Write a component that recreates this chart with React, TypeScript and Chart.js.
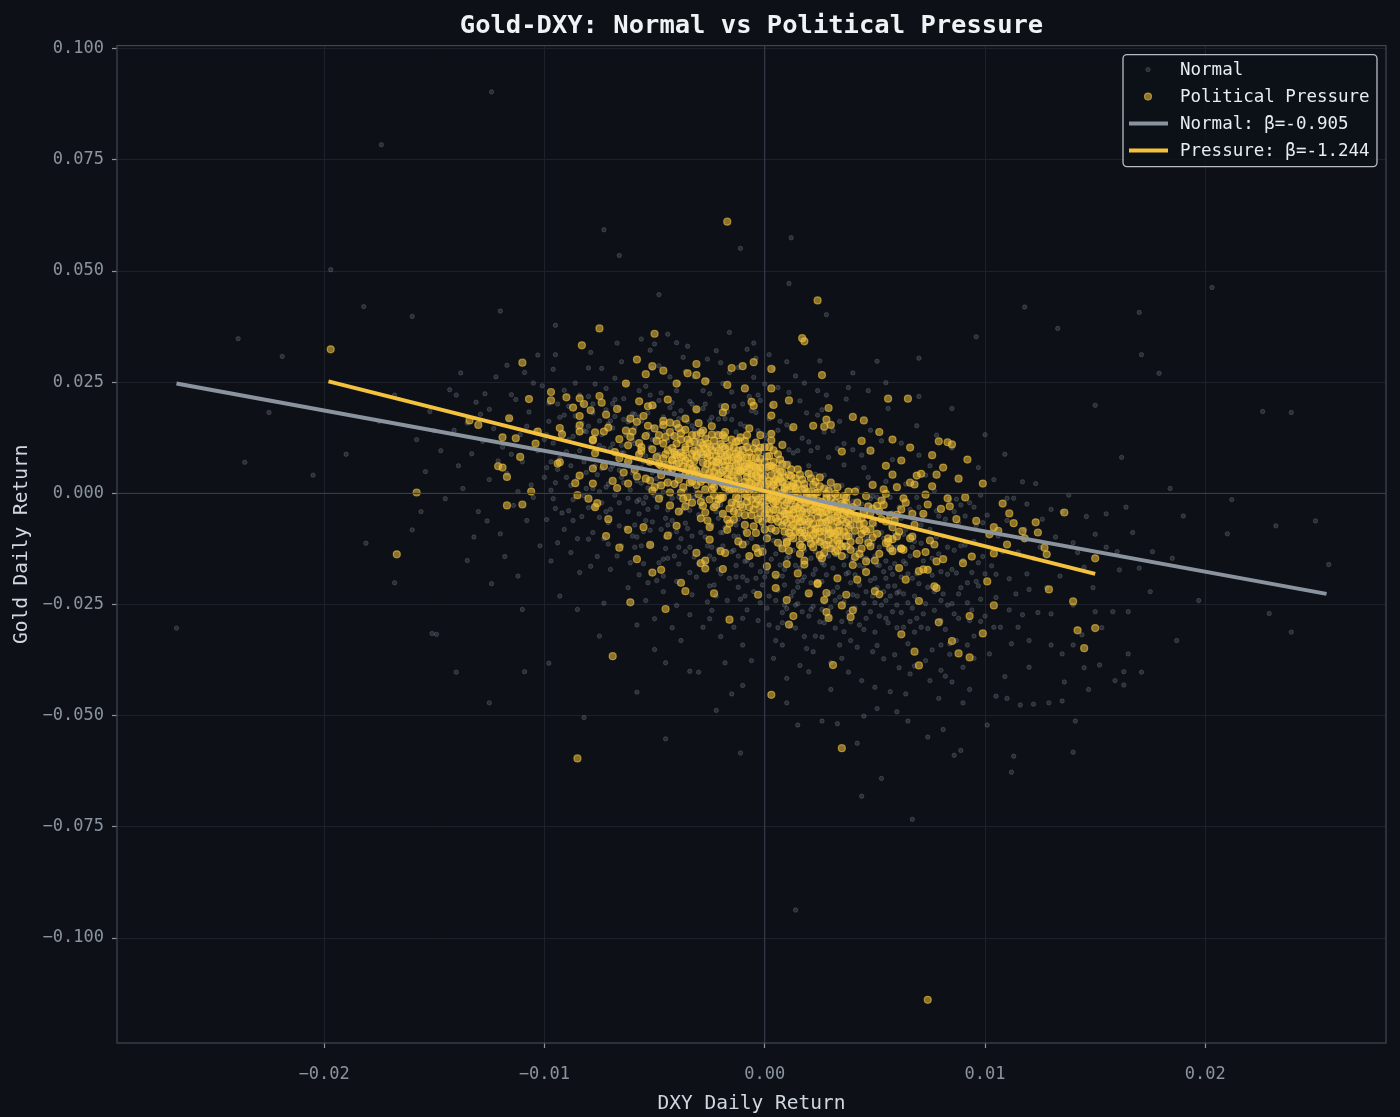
import React, { useEffect, useRef } from 'react';
import { Chart, registerables } from 'chart.js';

Chart.register(...registerables);

// axis ranges and tick labels
const xRange = [-0.0294, 0.0282];
const yRange = [-0.1236, 0.1007];
const xTicks = [-0.02, -0.01, 0, 0.01, 0.02];
const yTicks = [0.1, 0.075, 0.05, 0.025, 0, -0.025, -0.05, -0.075, -0.1];

// fitted lines, end points [DXY, Gold]
const normalFitX = [-0.0267, 0.0255];
const normalFitY = [0.0247, -0.0226];
const pressureFitX = [-0.0198, 0.015];
const pressureFitY = [0.0252, -0.0181];

const labels = ['Normal', 'Political Pressure', 'Normal: β=-0.905', 'Pressure: β=-1.244'];

// daily returns in basis points (1e-4): [DXY, Gold]
const pressurePts: number[][] = [
  [24,434],[-197,324],[-158,2],[-167,-137],[-85,-596],[-69,-366],[3,-453],[35,-573],[74,-1139],[-17,611],
  [17,349],[18,342],[-75,371],[-83,333],[-110,294],[-50,359],[-58,301],[-51,286],[-46,276],[-54,268],
  [-31,291],[-35,270],[-31,266],[-27,252],[-15,282],[-10,286],[-5,295],[3,280],[3,236],[26,266],
  [-17,244],[-9,236],[-40,247],[-63,247],[-107,212],[-97,228],[-97,209],[-90,216],[-84,214],[-82,201],
  [-75,219],[-74,204],[-79,187],[-87,193],[-67,190],[-44,211],[-57,207],[-53,196],[-51,198],[-31,189],
  [-18,194],[-19,182],[-6,206],[-5,197],[3,175],[4,199],[11,209],[29,192],[40,172],[45,164],
  [22,152],[28,166],[27,150],[30,154],[13,149],[3,134],[-116,169],[-130,154],[-134,164],[-119,126],
  [-113,124],[-111,82],[-104,112],[-119,58],[-117,37],[-106,4],[-84,174],[-84,153],[-84,139],[-93,147],
  [-92,133],[-93,70],[-78,121],[-73,139],[-86,23],[-78,22],[-84,40],[-117,-27],[-85,-4],[-76,-22],
  [-78,56],[-77,90],[-78,119],[-77,137],[-103,139],[-94,67],[-121,61],[-110,-25],
  [111,-45],[136,-43],[123,-65],[117,-85],[104,-76],[102,-92],[110,-115],[128,-137],[150,-146],[104,-135],
  [101,-198],[129,-216],[140,-243],[104,-252],[93,-276],[99,-315],[142,-308],[150,-303],[145,-348],[79,-290],
  [85,-332],[88,-360],[93,-369],[68,-356],[70,-387],[62,-317],[70,-242],[91,-9],[83,-11],[84,-29],
  [80,-35],[76,16],[78,42],[69,40],[68,20],[58,42],[94,-142],[90,-157],[81,-148],[78,-153],
  [73,-132],[75,-106],[87,-58],[64,-194],[61,-168],[70,-175],[72,-171],[77,-209],[78,-213],[50,-220],
  [52,-227],[46,-177],[46,-153],[50,-151],[55,-112],[58,-130],[62,-124],[60,-97],
  [-23,-225],[-16,-284],[-3,-228],[5,-213],[10,-240],[13,-276],[11,-295],[31,-386],[28,-267],[29,-280],
  [27,-240],[20,-225],[24,-204],[28,-224],[35,-252],[40,-263],[39,-278],[37,-228],[42,-194],[33,-191],
  [15,-180],[10,-159],[-27,-169],[-27,-151],[-19,-170],[-18,-134],[1,-164],[5,-183],[74,-172],[69,-136],
  [56,-109],[63,-127],[67,-97],[77,-115],[73,-3],[74,-25],[72,-46],[46,-85],[37,-119],[39,-127],
  [24,-202],[18,-151],[18,-160],[10,-112],[-8,-89],[-10,-115],[-25,-76],[-4,-123],[-3,-134],
  [56,213],[65,213],[79,117],[83,115],
  [-36,-220],[-29,-157],[-51,-178],[-58,-148],[-47,-172],[-38,-201],[-52,-116],[-31,-134],[-44,-95],[-62,-82],
  [-66,-122],[-71,-58],[-77,-31],[-80,-12],[-72,-96],[-55,-76],[-40,-73],[-25,-104],[-20,-130],[-12,-108],
  [-7,-141],[-1,-131],[-45,-260],[-61,-245],
  [48,96],[55,62],[62,74],[71,44],[58,121],[66,103],[81,58],[88,33],[92,76],[99,22],
  [44,118],[35,94],[52,138],[76,86],[85,110],
  [96,-62],[106,-84],[113,-67],[118,-101],[124,-88],[127,-122],[108,-23],
  [-71,148],[-68,93],[-73,61],[-66,122],[-69,28],[-72,177],[-63,141],[-66,79],[-62,108],[-64,47],
  [-61,168],[-67,12],[-58,161],[-61,127],[-57,88],[-59,53],[-62,22],[-56,104],[-60,139],[-53,152],
  [-57,113],[-52,71],[-54,33],[-56,96],[-51,6],[-55,174],[-48,131],[-51,99],[-47,62],[-49,82],
  [-52,29],[-46,163],[-50,146],[-48,-12],[-43,138],[-46,112],[-42,74],[-44,51],[-47,18],[-41,93],
  [-45,127],[-43,-27],[-38,121],[-41,88],[-37,61],[-39,31],[-42,76],[-36,104],[-40,156],[-38,2],
  [-39,-41],[-33,131],[-36,98],[-32,72],[-34,44],[-37,14],[-31,86],[-35,58],[-33,-21],[-36,168],
  [-28,108],[-31,81],[-27,53],[-29,26],[-32,96],[-26,66],[-30,-2],[-28,141],[-29,-56],[-23,119],
  [-26,91],[-22,58],[-24,36],[-27,9],[-21,76],[-25,46],[-23,-31],[-24,151],[-18,101],[-21,69],
  [-17,44],[-19,21],[-22,84],[-16,56],[-20,-6],[-18,124],[-19,-46],[-17,-82],[-13,89],[-16,61],
  [-12,34],[-14,11],[-17,74],[-11,49],[-15,-21],[-13,116],[-14,-59],[-8,81],[-11,51],[-7,24],
  [-9,-2],[-12,66],[-6,39],[-10,-31],[-8,104],[-9,-71],[-7,146],[-3,69],[-6,44],[-2,19],
  [-4,-6],[-7,56],[-1,31],[-5,-36],[-3,94],[-4,-89],[-2,131],[2,61],[-1,34],[3,11],
  [1,-16],[-2,46],[4,19],[0,-46],[2,84],[1,-101],[3,119],[-1,-64],[7,49],[4,26],
  [8,1],[6,-24],[3,41],[9,9],[5,-56],[7,76],[6,-111],[8,109],[12,39],[9,14],
  [13,-11],[11,-36],[8,26],[14,-59],[10,64],[12,-96],[11,-129],[17,31],[14,4],[18,-19],
  [16,-46],[13,16],[19,-71],[15,54],[17,-101],[16,-136],[22,19],[19,-6],[23,-31],[21,-56],
  [18,11],[24,-79],[20,44],[22,-121],[27,11],[24,-16],[28,-41],[26,-66],[23,1],[29,-91],
  [25,36],[27,-116],[26,-146],[32,-1],[29,-26],[33,-49],[31,-76],[28,-11],[34,-101],[30,24],
  [32,-131],[37,-9],[34,-36],[38,-61],[36,-86],[33,14],[39,-109],[35,-141],[42,-21],[39,-46],
  [43,-71],[41,4],[38,-96],[44,-124],[40,-161],[47,-29],[44,-56],[48,-81],[46,-6],[43,-106],
  [49,19],[52,-41],[49,-66],[53,-16],[51,-91],[48,-119],[54,9],[57,-49],[54,-26],[58,-76],
  [56,-101],[55,-1],[62,-36],[59,-61],[63,-11],[61,-86],[60,14],[67,-46],[64,-21],[68,-71],
  [66,24],
  [-44,97],[-41,129],[-39,68],[-36,41],[-34,113],[-31,19],[-29,92],[-27,123],[-26,31],[-24,62],
  [-22,104],[-21,-14],[-19,51],[-17,87],[-16,-34],[-14,29],[-12,96],[-11,8],[-9,61],[-8,-19],
  [-6,81],[-5,7],[-3,52],[-2,-27],[0,71],[1,-4],[2,28],[4,-37],[5,56],[6,-8],
  [8,-72],[9,36],[10,-21],[11,-49],[13,22],[14,-86],[15,-33],[16,42],[18,-59],[19,1],
  [21,-39],[22,-94],[24,-24],[25,16],[27,-54],[28,-79],[30,-36],[31,-113],[33,-64],[35,-23],
  [36,-49],[38,-78],[40,-31],[42,-58],[44,-91],
  [-42,54],[-37,84],[-33,27],[-28,69],[-23,-4],[-18,138],[-14,81],[-10,16],[-6,-49],[-2,103],
  [3,-79],[6,88],[10,-109],[13,-3],[17,-84],[20,-16],[23,-104],[26,-31],[30,-89],[33,-128],
  [37,-41],[41,-143],[45,-68],[48,-44],[51,-28],[55,-63],[58,-103],[60,-48],
  [-62,72],[-58,38],[-54,129],[-50,14],[-46,154],[-43,2],[-39,147],[-35,-8],[-31,131],[-27,-43],
  [-24,8],[-20,111],[-16,-68],[-12,-44],[-8,131],[-4,114],[0,-81],[4,97],[8,-124],[12,54],
  [16,-116],[21,34],[25,-139],[29,6],[34,-114],[38,4],[43,-136],[47,-111],[52,-136],[57,-124],
  [62,-124],[66,-101],
  [-49,118],[-47,41],[-45,88],[-43,159],[-41,21],[-40,66],[-38,135],[-37,-12],[-35,79],[-34,24],
  [-32,116],[-31,51],[-30,158],[-29,-19],[-28,88],[-27,33],[-26,-61],[-25,105],[-24,73],[-23,14],
  [-22,-26],[-21,131],[-20,89],[-19,-9],[-18,62],[-17,18],[-16,106],[-15,41],[-14,-41],[-13,64],
  [-12,7],[-11,126],[-10,81],[-9,-49],[-8,37],[-7,92],[-6,-14],[-5,61],[-4,24],[-3,-58],
  [-2,78],[-1,1],[0,39],[1,-36],[2,104],[3,-12],[4,58],[5,-84],[6,24],[7,-51],
  [8,66],[9,-28],[10,6],[11,-89],[12,16],[13,-44],[14,34],[15,-76],[16,-13],[17,-121],
  [18,21],[19,-44],[20,-101],[21,-7],[22,-69],[23,26],[24,-54],[25,-109],[26,-19],[27,-84],
  [28,-1],[29,-61],[30,-124],[31,-31],[32,-91],[33,-6],[34,-71],[35,-119],[36,-26],[37,-96],
  [-48,66],[-44,24],[-40,112],[-36,-29],[-33,89],[-29,114],[-25,-14],[-21,41],[-17,-59],[-13,-8],
  [-9,118],[-5,-74],[-1,-19],[3,62],[7,-6],[11,41],[15,-3],[19,-96],[23,-79],[27,-134],
  [-46,79],[-42,102],[-38,81],[-34,67],[-30,42],[-26,81],[-22,31],[-18,84],[-14,48],[-10,54],
  [-6,22],[-2,58],[2,-9],[6,41],[10,-46],[14,12],[18,-34],[22,-11],[26,-44],[30,-59],
  [-20,26],[-16,8],[-12,79],[-8,12],[-4,41],[0,16],[4,-21],[8,-39],[12,-16],[16,-64],
  [-24,97],[-19,72],[-15,121],[-11,-26],[-7,66],[-3,16],[1,83],[5,31],[9,-61],[13,-71],
  [17,8],[21,-81],[25,-66],[29,-106],[33,-86],[37,-66],[41,-84],[45,-41],[49,-99],[53,-58],
  [-38,92],[-35,121],[-33,54],[-30,101],[-28,32],[-26,112],[-24,21],[-22,71],[-20,-12],[-19,106],
  [-17,32],[-15,74],[-13,-24],[-12,51],[-10,98],[-9,26],[-7,-31],[-6,63],[-4,79],[-3,-14],
  [-1,56],[0,-6],[1,21],[2,-44],[4,71],[5,-18],[6,-64],[7,33],[9,-46],[10,19],
  [11,-14],[12,-58],[14,-29],[15,21],[16,-88],[17,-41],[19,-21],[20,-64],[22,-36],[23,-88],
  [24,2],[26,-99],[27,-26],[29,-44],[30,-11],[31,-96],[33,-41],[34,-84],[36,-6],[38,-44],
  [-36,74],[-32,38],[-29,136],[-25,86],[-21,96],[-18,14],[-14,103],[-11,71],[-8,48],[-5,101],
  [-2,-44],[1,58],[3,-59],[5,6],[8,-14],[10,-66],[13,-36],[15,-56],[18,-89],[21,-24],
  [25,-86],[28,-64],[32,-54],[35,-58],[39,-71],[-16,28],[-12,-12],[-8,66],[-4,-24],[0,104],
  [-27,101],[-23,48],[-19,131],[-15,9],[-11,86],[-7,6],[-3,36],[1,-56],[5,-37],[9,-86],
  [13,-101],[17,-63],[21,-113],[25,-41],[29,-81],[33,-106],[37,-21],[41,-56],[45,-81],[49,-34],
  [-44,64],[-40,86],[-36,143],[-32,56],[-28,-28],[-24,132],[-20,46],[-16,91],[-12,118],[-8,-6],
  [-4,58],[0,-29],[4,-6],[8,48],[12,-76],[16,-26],[20,4],[24,-41],[28,-116],[32,-21],
];

const normalPts: number[][] = [
  [-158,121],[-152,184],[-147,96],[-143,233],[-139,62],[-135,158],[-131,205],[-128,117],[-125,31],[-122,262],
  [-156,-41],[-149,-317],[-141,142],[-137,11],[-133,89],[-129,178],[-126,-62],[-123,146],[-121,73],[-145,-12],
  [-154,49],[-132,-98],[-127,224],[-138,271],[-124,-203],
  [-119,104],[-117,45],[-116,168],[-114,-27],[-113,211],[-111,132],[-110,71],[-108,-61],[-107,183],[-106,19],
  [-104,141],[-103,96],[-102,-118],[-101,242],[-99,58],[-98,162],[-97,7],[-96,113],[-95,-34],[-94,201],
  [-93,79],[-92,138],[-91,-81],[-90,36],[-118,-142],[-115,88],[-112,-186],[-109,272],[-105,-9],[-100,121],
  [-97,-152],[-94,54],[-91,176],[-103,311],[-112,4],[-96,279],[-108,151],[-99,-59],[-93,-231],[-117,288],
  [-89,121],[-88,62],[-87,-14],[-86,174],[-85,33],[-84,96],[-83,-52],[-82,141],[-81,11],[-80,218],
  [-79,77],[-78,-88],[-77,128],[-76,42],[-75,163],[-74,-21],[-73,102],[-72,236],[-71,-66],[-70,54],
  [-69,147],[-68,-4],[-67,89],[-66,192],[-65,-118],[-64,24],[-63,131],[-62,-41],[-61,72],[-60,179],
  [-88,-133],[-86,248],[-84,-178],[-82,71],[-80,-103],[-78,201],[-76,-142],[-74,281],[-72,14],[-70,-171],
  [-68,259],[-66,-73],[-64,213],[-62,-212],[-85,-261],[-79,317],[-73,-247],[-67,338],[-61,-156],[-87,128],
  [-81,47],[-75,4],[-69,111],[-63,68],[-83,201],[-77,-31],[-71,156],[-65,36],[-89,-39],[-60,-96],
  [-59,112],[-58,28],[-57,-46],[-56,163],[-55,71],[-54,-9],[-53,134],[-52,-83],[-51,47],[-50,196],
  [-49,-31],[-48,88],[-47,151],[-46,3],[-45,-124],[-44,119],[-43,57],[-42,-61],[-41,179],[-40,21],
  [-39,94],[-38,-102],[-37,144],[-36,38],[-35,-19],[-34,207],[-33,66],[-32,-143],[-31,117],[-30,-48],
  [-59,-71],[-57,231],[-55,-158],[-53,12],[-51,281],[-49,-196],[-47,-81],[-45,62],[-43,262],[-41,-141],
  [-39,-8],[-37,306],[-35,91],[-33,-228],[-31,188],[-58,59],[-56,-118],[-54,241],[-52,104],[-50,-5],
  [-48,-156],[-46,172],[-44,-37],[-42,128],[-40,-252],[-38,48],[-36,-67],[-34,-178],[-32,142],[-30,79],
  [-59,178],[-57,91],[-55,-22],[-53,-201],[-51,149],[-49,33],[-47,226],[-45,-56],[-43,-91],[-41,84],
  [-39,247],[-37,-34],[-35,161],[-33,-96],[-31,8],[-58,-296],[-54,-241],[-50,-282],[-46,-221],[-42,-302],
  [-38,-331],[-34,-273],[-56,347],[-52,322],[-48,287],[-44,358],[-40,339],[-36,274],[-32,262],[-57,-14],
  [-45,23],[-39,-159],[-33,27],[-53,69],
  [-29,84],[-28,-12],[-27,141],[-26,47],[-25,-76],[-24,108],[-23,19],[-22,-41],[-21,167],[-20,62],
  [-19,-118],[-18,124],[-17,2],[-16,81],[-15,-63],[-14,196],[-13,34],[-12,-97],[-11,102],[-10,-21],
  [-9,151],[-8,56],[-7,-143],[-6,14],[-5,113],[-4,-52],[-3,78],[-2,-176],[-1,39],[0,131],
  [-29,-88],[-27,-158],[-25,224],[-23,-206],[-21,-21],[-19,247],[-17,-241],[-15,166],[-13,-162],[-11,-48],
  [-9,-86],[-7,218],[-5,-221],[-3,-9],[-1,-121],[-28,191],[-26,-244],[-24,-32],[-22,92],[-20,-181],
  [-18,-77],[-16,272],[-14,-128],[-12,21],[-10,201],[-8,-262],[-6,-101],[-4,182],[-2,63],[0,-28],
  [-29,32],[-27,12],[-25,163],[-23,71],[-21,-126],[-19,88],[-17,184],[-15,-22],[-13,138],[-11,-238],
  [-9,42],[-7,-41],[-5,261],[-3,-286],[-1,94],[-28,-301],[-26,302],[-24,-263],[-22,321],[-20,-322],
  [-18,-381],[-16,362],[-14,-301],[-12,283],[-10,-341],[-8,324],[-6,-376],[-4,304],[-2,-246],[0,246],
  [-27,68],[-24,-121],[-21,118],[-18,39],[-15,98],[-12,-58],[-9,-153],[-6,71],[-3,141],[0,-86],
  [-26,254],[-20,197],[-14,59],[-8,-196],[-2,209],[-25,-208],[-19,-46],[-13,-188],[-7,109],[-1,-206],
  [1,47],[2,-61],[3,108],[4,-12],[5,-136],[6,73],[7,-42],[8,21],[9,-101],[10,154],
  [11,-4],[12,-77],[13,91],[14,-162],[15,28],[16,-51],[17,124],[18,-128],[19,-19],[20,62],
  [21,-201],[22,7],[23,-84],[24,103],[25,-33],[26,-156],[27,41],[28,-68],[29,-226],[30,12],
  [1,-176],[3,198],[5,-241],[7,162],[9,-38],[11,227],[13,-221],[15,-108],[17,-266],[19,181],
  [21,-146],[23,43],[25,-289],[27,138],[29,-9],[2,-94],[4,281],[6,-302],[8,-186],[10,-259],
  [12,146],[14,-28],[16,208],[18,-322],[20,-92],[22,-254],[24,-112],[26,188],[28,-183],[30,-121],
  [1,124],[3,-31],[5,18],[7,-118],[9,-206],[11,-142],[13,38],[15,-198],[17,-81],[19,-349],
  [21,96],[23,-171],[25,-58],[27,-242],[29,81],[2,312],[4,-371],[6,238],[8,-341],[10,-416],
  [12,-298],[14,264],[16,-387],[18,248],[20,-276],[22,-356],[24,176],[26,-323],[28,221],[30,-381],
  [2,-231],[5,93],[8,-268],[11,68],[14,-91],[17,-196],[20,-38],[23,-321],[26,-84],[29,-141],
  [3,-148],[9,-4],[15,-248],[21,-61],[27,-18],
  [31,-62],[32,18],[33,-138],[34,-14],[35,-96],[36,64],[37,-181],[38,-39],[39,-121],[40,-228],
  [41,-71],[42,11],[43,-162],[44,-24],[45,-247],[46,-104],[47,36],[48,-196],[49,-58],[50,-141],
  [51,-9],[52,-276],[53,-88],[54,-176],[55,27],[56,-124],[57,-231],[58,-44],[59,-158],[60,-302],
  [31,-221],[33,101],[35,-288],[37,-4],[39,-331],[41,-183],[43,-296],[45,58],[47,-151],[49,-356],
  [51,-212],[53,118],[55,-281],[57,-71],[59,-363],[32,-303],[34,162],[36,-244],[38,-402],[40,98],
  [42,-346],[44,-421],[46,-41],[48,142],[50,-436],[52,-162],[54,-372],[56,-209],[58,76],[60,-121],
  [31,141],[34,-341],[37,212],[40,-18],[43,-46],[46,-281],[49,-112],[52,-38],[55,-191],[58,-266],
  [32,-81],[36,-161],[41,-128],[45,-87],[50,-71],[54,-12],[59,-89],[33,-518],[42,-562],[51,-484],
  [57,-446],[38,238],[47,231],[56,191],
  [61,-31],[62,-188],[63,-92],[64,21],[65,-246],[66,-141],[67,-56],[68,-312],[69,-9],[70,-203],
  [71,-112],[72,-271],[73,41],[74,-168],[75,-81],[76,-352],[77,-221],[78,-39],[79,-136],[80,-286],
  [81,-96],[82,-411],[83,-182],[84,-14],[85,-248],[86,-128],[87,-331],[88,-66],[89,-212],[90,-391],
  [61,-392],[64,-451],[67,-258],[70,86],[73,-376],[76,-146],[79,-461],[82,-58],[85,-424],[88,-281],
  [62,113],[66,-406],[71,-301],[75,62],[80,-176],[84,-338],[89,-26],[63,-153],[68,-108],[72,-48],
  [77,-263],[83,-121],[87,-179],[65,-512],[74,-548],[81,-531],[86,-589],[69,152],[78,131],[85,102],
  [91,-116],[92,-246],[93,-21],[94,-178],[95,-321],[96,-72],[97,-208],[98,-4],[99,-142],[100,-276],
  [101,-49],[102,-361],[103,-163],[104,31],[105,-234],[106,-96],[107,-301],[108,-131],[109,-412],[110,-61],
  [111,-192],[112,-338],[113,-11],[114,-226],[115,-132],[116,-476],[117,-273],[118,-81],[119,-181],[120,-391],
  [93,-441],[97,58],[101,-521],[105,-456],[109,88],[113,-591],[117,26],[95,-31],[103,-86],[111,-262],
  [119,-24],
  [122,-146],[124,-268],[126,-58],[128,-212],[130,-341],[132,-98],[134,-186],[136,-424],[138,-4],[140,-251],
  [142,-133],[144,-318],[146,-52],[149,-212],[152,-386],[155,-121],[158,-266],[161,-172],[164,-31],[167,-88],
  [123,22],[129,-471],[135,-361],[141,-512],[147,-441],[153,-302],[159,-421],[165,-266],[170,-168],[163,-401],
  [184,11],[179,270],[170,407],[203,463],[226,184],[239,182],[256,-160],[239,-312],[229,-270],[171,-402],
  [163,-431],[135,-467],[122,-474],[67,-733],[14,-937],[-11,-584],[-34,-400],[12,575],[-11,551],[-73,593],
  [-66,535],[-48,447],[11,472],[51,297],[-124,903],[-174,784],[-197,503],[-182,420],[-239,348],[-219,308],
  [-225,182],[-236,70],[-267,-303],[-151,-315],[-125,-471],[-109,-401],[-82,-504],[-58,-447],[53,-641],[89,-578],
  [112,-627],[145,-392],[190,-51],[210,-91],[176,-131],[197,-241],[171,312],[133,371],[96,352],[118,419],
  [-190,88],[-175,162],[-168,-201],[-181,-112],[-205,41],[-168,221],[-160,398],[-140,-402],[-98,-382],[26,-512],
  [44,-681],[-22,-488],[-45,-552],[140,-582],[28,402],[70,304],[-95,378],[-120,410],[150,198],[162,81],
  [187,-331],[232,-73],[212,-14],[250,-62],
  [-99,132],[-96,-12],[-93,171],[-90,94],[-87,-61],[-84,221],[-81,139],[-78,11],[-75,-54],[-72,188],
  [-69,62],[-66,-21],[-63,246],[-60,119],[-57,-183],[-54,84],[-51,-64],[-48,209],[-45,141],[-42,-11],
  [-39,168],[-36,-131],[-33,201],[-30,118],[-27,-98],[-24,171],[-21,-56],[-18,-2],[-15,228],[-12,-211],
  [-9,104],[-6,-161],[-3,221],[0,61],[3,-83],[6,142],[9,-251],[12,-29],[15,96],[18,-188],
  [21,-106],[24,231],[27,-291],[30,-52],[33,-211],[36,112],[39,-289],[42,-108],[45,-168],[48,-12],
  [51,-342],[54,-101],[57,-9],[60,-224],[63,-301],[66,-36],[69,-281],[72,-152],[75,-421],[78,-98],
  [81,-226],[84,-362],[87,-13],[90,-151],[93,-286],[96,-198],[99,-66],[-97,71],[-94,-111],[-91,232],
  [-88,18],[-85,148],[-82,-6],[-79,-164],[-76,96],[-73,-102],[-70,163],[-67,-141],[-64,91],[-61,8],
  [-58,-18],[-55,127],[-52,-116],[-49,71],[-46,-148],[-43,193],[-40,-86],[-37,71],[-34,-38],[-31,-188],
  [-28,51],[-25,-141],[-22,136],[-19,-88],[-16,41],[-13,-71],[-10,58],[-7,-13],[-4,101],[-1,-73],
  [2,168],[5,-188],[8,-68],[11,98],[14,-303],[17,-33],[20,116],[23,-131],[26,-198],[29,-278],
  [32,-138],[35,18],[38,-178],[41,-258],[44,86],[47,-96],[50,-191],[53,-251],[56,-58],[59,-208],
  [62,-56],[65,-181],[68,-388],[71,-71],[74,-304],[77,6],[80,-341],[83,-251],[86,-41],[89,-118],
  [92,-341],[95,-108],[98,-238],[-98,203],[-95,24],[-92,-44],[-89,196],[-86,84],[-83,158],[-80,-32],
  [-77,246],[-74,56],[-71,-114],[-68,211],[-65,91],[-62,161],[-59,-121],[-56,23],[-53,181],[-50,121],
  [-47,-8],[-44,-146],[-41,43],[-38,186],[-35,-79],[-32,91],[-29,-31],[-26,126],[-23,-148],[-20,-26],
  [-17,101],[-14,-36],[-11,156],[-8,-111],[-5,21],[-2,-58],[1,-258],[4,44],[7,-161],[10,-81],
  [13,-128],[16,-168],[19,46],[22,-48],[25,-148],[28,-96],[31,-19],[34,-233],[37,-121],[40,-151],
  [43,-79],[46,-221],[49,-6],[52,-92],[55,-152],[58,-182],[61,-128],[64,-81],[67,-191],[70,-31],
  [73,-248],[76,-184],[79,-51],[82,-306],[85,-171],[88,-226],[91,-51],[94,-262],[97,-156],[100,-181],
  [-100,36],[-85,-102],[-70,-36],[-55,-86],[-40,-198],[-25,-282],[-10,-281],[5,-331],[20,-401],[35,-371],
  [50,-312],[65,-338],[80,-398],[95,-371],[-95,312],[-80,282],[-65,296],[-50,336],[-35,331],[-20,294],
  [-5,338],[10,296],[25,298],[40,271],[55,249],[70,218],[85,191],[100,132],[-50,-351],[-30,-402],
  [-10,-432],[10,-471],[30,-441],[60,-491],[90,-471],[-75,-321],[-45,-381],[-15,-451],[15,-521],[45,-501],
  [-120,-91],[-130,-41],[-140,221],[-110,-261],[-105,248],[-135,-151],[-150,141],[-160,-82],[-115,222],[-125,189],
  [105,-182],[110,-11],[115,-301],[120,-216],[125,-121],[130,-271],[135,-41],[140,-341],[145,-166],[150,-266],
  [155,-46],[160,-131],[110,-461],[130,-36],[140,-111],[120,-331],[150,-92],[165,-361],[175,-221],[185,-146],
  [-80,151],[-77,62],[-74,132],[-71,21],[-68,173],[-65,108],[-62,-11],[-59,148],[-56,58],[-53,-36],
  [-50,82],[-47,118],[-44,-71],[-41,148],[-38,-41],[-35,121],[-32,-9],[-29,141],[-26,-118],[-23,98],
  [-20,-88],[-17,56],[-14,-96],[-11,18],[-8,-151],[-5,-12],[-2,101],[1,-31],[4,-106],[7,64],
  [10,-146],[13,-41],[16,-138],[19,-74],[22,-182],[25,-108],[28,-21],[31,-168],[34,-66],[37,-141],
  [40,-96],[43,-206],[46,-146],[49,-231],[52,-121],[55,-241],[58,-131],[61,-221],[64,-158],[67,-121],
  [-78,181],[-75,108],[-72,-41],[-69,202],[-66,52],[-63,-78],[-60,46],[-57,172],[-54,-61],[-51,121],
  [-48,21],[-45,-98],[-42,204],[-39,-121],[-36,8],[-33,152],[-30,-158],[-27,201],[-24,-71],[-21,-171],
  [-18,168],[-15,-131],[-12,-141],[-9,-231],[-6,186],[-3,-121],[0,-188],[3,136],[6,-218],[9,-171],
  [12,-231],[15,-211],[18,-51],[21,-261],[24,-198],[27,-161],[30,-256],[33,-31],[36,-311],[39,-201],
  [42,-231],[45,-306],[48,-266],[51,-161],[54,-221],[57,-168],[60,-251],[63,-226],[66,-288],[69,-181],
  [-70,101],[-64,166],[-58,-98],[-52,221],[-46,-186],[-40,231],[-34,-121],[-28,231],[-22,-231],[-16,-191],
  [-10,-188],[-4,-191],[2,-296],[8,-291],[14,-251],[20,-228],[26,-261],[32,-241],[38,-268],[44,-142],
  [50,-246],[56,-291],[62,-268],[68,-231],[74,-211],[80,-241],[86,-271],[92,-201],[98,-288],[104,-301],
];

const FONT = "'DejaVu Sans Mono', monospace";
const BG = '#0d1117';

const toXY = (p: number[]) => ({ x: p[0] / 10000, y: p[1] / 10000 });
const fmt = (v: number, d: number) => {
  const s = Math.abs(v).toFixed(d);
  return v < -1e-12 ? '\u2212' + s : s;
};

const bgPlugin = {
  id: 'bg',
  beforeDraw(chart: any) {
    const { ctx, width, height } = chart;
    ctx.save();
    ctx.fillStyle = BG;
    ctx.fillRect(0, 0, width, height);
    ctx.restore();
  },
};

const spinePlugin = {
  id: 'spines',
  afterDatasetsDraw(chart: any) {
    const { ctx, chartArea: a } = chart;
    ctx.save();
    ctx.strokeStyle = '#3d434c';
    ctx.lineWidth = 1.3;
    ctx.strokeRect(a.left, a.top, a.right - a.left, a.bottom - a.top);
    ctx.restore();
  },
};

const legendPlugin = {
  id: 'boxLegend',
  afterDraw(chart: any) {
    const { ctx, chartArea } = chart;
    const w = 254, h = 112;
    const x0 = chartArea.right - 9 - w;
    const y0 = chartArea.top + 9;
    ctx.save();
    ctx.beginPath();
    ctx.roundRect(x0, y0, w, h, 4);
    ctx.fillStyle = 'rgba(13,17,23,0.85)';
    ctx.fill();
    ctx.strokeStyle = 'rgba(214,219,226,0.85)';
    ctx.lineWidth = 1.3;
    ctx.stroke();
    ctx.font = `17.5px ${FONT}`;
    ctx.textBaseline = 'middle';
    ctx.textAlign = 'left';
    chart.data.datasets.slice(0, 4).forEach((ds: any, i: number) => {
      const cy = y0 + 15 + i * 27;
      if (ds.showLine) {
        ctx.strokeStyle = ds.borderColor;
        ctx.lineWidth = ds.borderWidth;
        ctx.beginPath();
        ctx.moveTo(x0 + 6, cy);
        ctx.lineTo(x0 + 45, cy);
        ctx.stroke();
      } else {
        ctx.beginPath();
        ctx.arc(x0 + 25, cy, ds.pointRadius, 0, Math.PI * 2);
        ctx.fillStyle = ds.backgroundColor;
        ctx.fill();
        ctx.strokeStyle = ds.borderColor;
        ctx.lineWidth = ds.borderWidth;
        ctx.stroke();
      }
      ctx.fillStyle = '#e6edf3';
      ctx.fillText(ds.label, x0 + 57, cy + 1);
    });
    ctx.restore();
  },
};

const GoldDxyScatter = () => {
  const canvasRef = useRef<HTMLCanvasElement>(null);

  useEffect(() => {
    document.body.style.margin = '0';
    document.body.style.background = BG;
    const ctx: any = canvasRef.current && canvasRef.current.getContext('2d');
    if (!ctx) return;

    const gridColor = '#1d222a';
    const config: any = {
      type: 'scatter',
      data: {
        datasets: [
          {
            label: labels[0],
            data: normalPts.map(toXY),
            pointRadius: 2.2,
            backgroundColor: 'rgba(139,148,158,0.24)',
            borderColor: 'rgba(139,148,158,0.26)',
            borderWidth: 1,
            order: 5,
          },
          {
            label: labels[1],
            data: pressurePts.map(toXY),
            pointRadius: 3.5,
            backgroundColor: 'rgba(242,194,60,0.55)',
            borderColor: 'rgba(242,194,60,0.6)',
            borderWidth: 1.2,
            order: 4,
          },
          {
            label: labels[2],
            data: normalFitX.map((x, i) => ({ x, y: normalFitY[i] })),
            showLine: true,
            pointRadius: 0,
            borderColor: '#8b949e',
            borderWidth: 4,
            order: 2,
          },
          {
            label: labels[3],
            data: pressureFitX.map((x, i) => ({ x, y: pressureFitY[i] })),
            showLine: true,
            pointRadius: 0,
            borderColor: '#f4c23c',
            borderWidth: 4,
            order: 1,
          },
          {
            label: 'zero-x',
            data: [{ x: xRange[0], y: 0 }, { x: xRange[1], y: 0 }],
            showLine: true,
            pointRadius: 0,
            borderColor: '#3a414d',
            borderWidth: 1,
            order: 3,
          },
          {
            label: 'zero-y',
            data: [{ x: 0, y: yRange[0] }, { x: 0, y: yRange[1] }],
            showLine: true,
            pointRadius: 0,
            borderColor: '#3a414d',
            borderWidth: 1,
            order: 3,
          },
        ],
      },
      options: {
        responsive: true,
        maintainAspectRatio: false,
        animation: false,
        events: [],
        layout: { padding: { top: 0, right: 14, left: 0, bottom: 0 } },
        plugins: {
          legend: { display: false },
          tooltip: { enabled: false },
          title: {
            display: true,
            fullSize: false,
            text: 'Gold-DXY: Normal vs Political Pressure',
            color: '#f0f3f6',
            font: { family: FONT, size: 25.5, weight: 'bold' },
            padding: { top: 11, bottom: 4 },
          },
        },
        scales: {
          x: {
            type: 'linear',
            min: xRange[0],
            max: xRange[1],
            afterBuildTicks: (s: any) => { s.ticks = xTicks.map((v) => ({ value: v })); },
            afterFit: (s: any) => { s.height = 74; },
            border: { display: false },
            grid: { color: gridColor, lineWidth: 1, tickColor: '#8b949e', tickLength: 5, tickWidth: 1.2 },
            ticks: {
              color: '#8b949e',
              font: { family: FONT, size: 17 },
              padding: 16,
              maxRotation: 0,
              callback: (v: any) => fmt(Number(v), 2),
            },
            title: {
              display: true,
              text: 'DXY Daily Return',
              color: '#d0d7de',
              font: { family: FONT, size: 19.5 },
              padding: { top: 0, bottom: 1 },
            },
          },
          y: {
            type: 'linear',
            min: yRange[0],
            max: yRange[1],
            afterBuildTicks: (s: any) => { s.ticks = yTicks.map((v) => ({ value: v })); },
            afterFit: (s: any) => { s.width = 117; },
            border: { display: false },
            grid: { color: gridColor, lineWidth: 1, tickColor: '#8b949e', tickLength: 5, tickWidth: 1.2 },
            ticks: {
              color: '#8b949e',
              font: { family: FONT, size: 17 },
              padding: 8,
              callback: (v: any) => fmt(Number(v), 3),
            },
            title: {
              display: true,
              text: 'Gold Daily Return',
              color: '#d0d7de',
              font: { family: FONT, size: 19.5 },
              padding: { top: 10, bottom: 0 },
            },
          },
        },
      },
      plugins: [bgPlugin, spinePlugin, legendPlugin],
    };

    const chart = new Chart(ctx, config);
    return () => {
      chart.destroy();
    };
  }, []);

  return (
    <div style={{ width: '1400px', height: '1117px', background: BG, position: 'relative' }}>
      <canvas ref={canvasRef}></canvas>
    </div>
  );
};

export default function App() {
  return <GoldDxyScatter />;
}
